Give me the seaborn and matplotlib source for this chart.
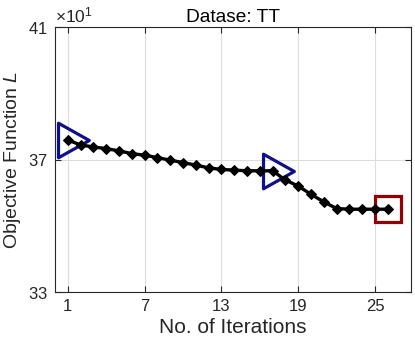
import matplotlib
matplotlib.use("Agg")
import matplotlib.pyplot as plt
import seaborn as sns
import pandas as pd
from matplotlib.ticker import ScalarFormatter
from matplotlib.path import Path

# Data (objective function values, actual units)
iterations = list(range(1, 27))
objective = [375.9, 374.4, 373.8, 373.3, 372.6, 371.8, 371.3, 370.6, 369.8, 369.1,
             368.3, 367.5, 367.0, 366.8, 366.6, 366.6, 366.6, 363.8, 362.0, 359.5,
             357.2, 355.2, 355.0, 355.0, 355.0, 355.0]
tri_x = [1, 17]
tri_y = [375.9, 366.6]
sq_x = [26]
sq_y = [355.0]
xticks = [1, 7, 13, 19, 25]
yticks = [330, 370, 410]
title = "Datase: TT"
xlabel = "No. of Iterations"
ylabel = "Objective Function $L$"

sns.set_theme(style="whitegrid")
plt.rcParams['font.family'] = ['Liberation Sans', 'DejaVu Sans']
plt.rcParams['mathtext.fontset'] = 'custom'
plt.rcParams['mathtext.rm'] = 'Liberation Sans'
plt.rcParams['mathtext.it'] = 'Liberation Sans:italic'

fig = plt.figure(figsize=(4.15, 3.47), dpi=100)
ax = fig.add_axes([0.1325, 0.1585, 0.8575, 0.7635])

df = pd.DataFrame({"it": iterations, "obj": objective})

# right-pointing triangle, slightly offset like MATLAB's marker
tri_path = Path([(-0.48, -0.83), (1.0, 0.0), (-0.48, 0.83), (-0.48, -0.83)],
                [Path.MOVETO, Path.LINETO, Path.LINETO, Path.CLOSEPOLY])

ax.plot(tri_x, tri_y, linestyle='none', marker=tri_path, markersize=30,
        markerfacecolor='none', markeredgecolor='#10108f', markeredgewidth=2.3,
        zorder=2, clip_on=False)
ax.plot(sq_x, sq_y, linestyle='none', marker='s', markersize=19,
        markerfacecolor='none', markeredgecolor='#950000', markeredgewidth=2.3,
        zorder=2, clip_on=False)
sns.lineplot(data=df, x="it", y="obj", ax=ax, color='black', linewidth=2.4,
             marker='D', markersize=5.5, markeredgecolor='black', zorder=3)

ax.set_xlim(0, 27.8)
ax.set_ylim(330, 410)
ax.set_xticks(xticks)
ax.set_yticks(yticks)

fmt = ScalarFormatter(useMathText=True)
fmt.set_powerlimits((1, 1))
ax.yaxis.set_major_formatter(fmt)
ax.yaxis.get_offset_text().set_fontsize(12.5)
ax.yaxis.get_offset_text().set_color('#262626')

ax.grid(True, color='#dddddd', linewidth=0.8)
for s in ax.spines.values():
    s.set_color('#262626')
    s.set_linewidth(0.8)
    s.set_visible(True)
ax.tick_params(direction='in', length=4, width=0.8, color='#262626',
               top=True, right=True, bottom=True, left=True,
               labelsize=12, labelcolor='#262626', pad=5)

ax.set_title(title, fontsize=13.8, color='black', pad=4)
ax.set_xlabel(xlabel, fontsize=15, color='#262626', labelpad=3)
ax.set_ylabel(ylabel, fontsize=14, color='#262626', labelpad=4)

fig.savefig("out.png", dpi=100)
